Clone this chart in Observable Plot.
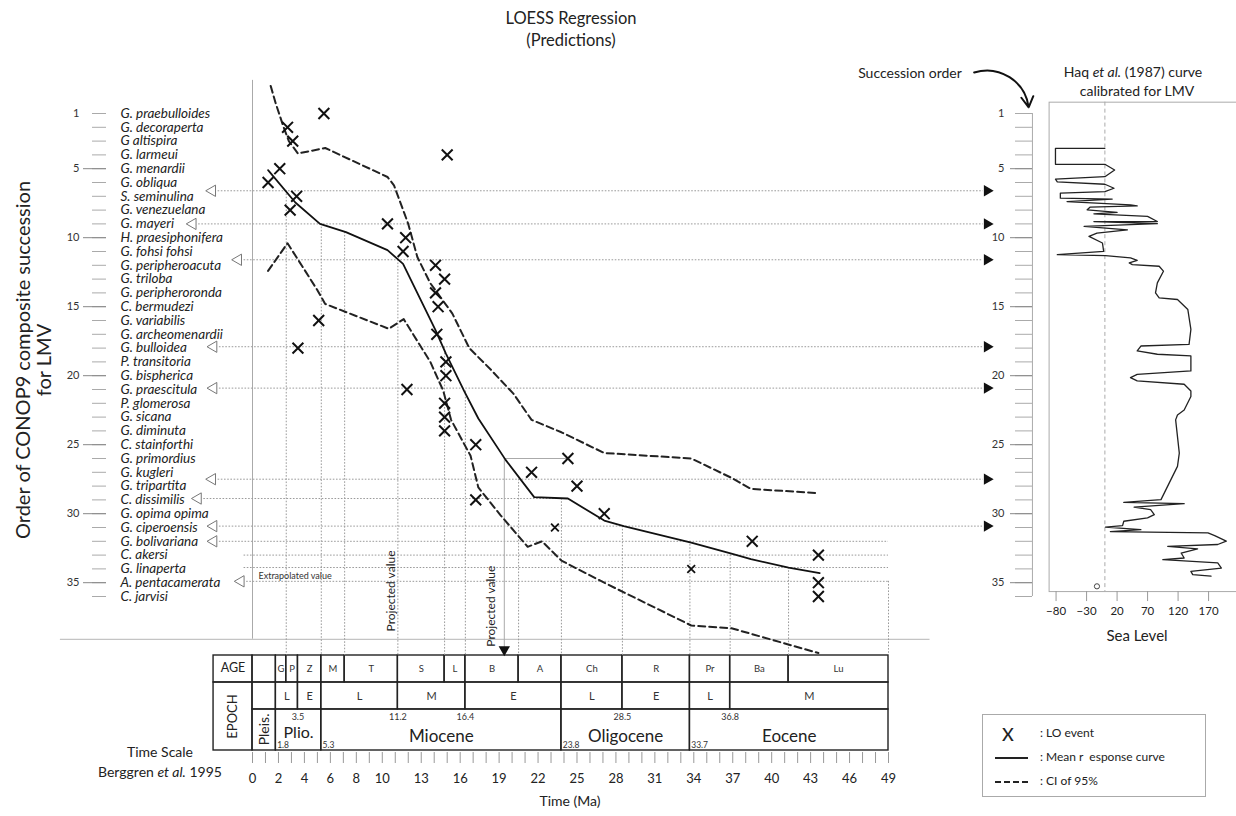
<!DOCTYPE html>
<html>
<head>
<meta charset="utf-8">
<script src="https://cdn.jsdelivr.net/npm/d3@7"></script>
<script src="https://cdn.jsdelivr.net/npm/@observablehq/plot@0.6"></script>
<style>
  body { margin: 0; background: #fff; font-family: Lato, "Open Sans", sans-serif; color: #222; }
  #fig { position: relative; width: 1236px; height: 816px; overflow: hidden; background: #fff; }
  #fig svg { position: absolute; left: 0; top: 0; overflow: visible; }
  .t { position: absolute; white-space: nowrap; line-height: 1; }
  .c { transform: translate(-50%, -50%); }
</style>
</head>
<body>
<div id="fig"></div>
<script>
// ---- Taxa in CONOP9 composite order (1 = youngest) ----
const species = ["G. praebulloides","G. decoraperta","G altispira","G. larmeui","G. menardii","G. obliqua",
  "S. seminulina","G. venezuelana","G. mayeri","H. praesiphonifera","G. fohsi fohsi","G. peripheroacuta",
  "G. triloba","G. peripheroronda","C. bermudezi","G. variabilis","G. archeomenardii","G. bulloidea",
  "P. transitoria","G. bispherica","G. praescitula","P. glomerosa","G. sicana","G. diminuta",
  "C. stainforthi","G. primordius","G. kugleri","G. tripartita","C. dissimilis","G. opima opima",
  "G. ciperoensis","G. bolivariana","C. akersi","G. linaperta","A. pentacamerata","C. jarvisi"];

// Age (Ma) of each last occurrence, same order as species
const loAge = [5.5,2.7,3.1,15.0,2.1,1.2,3.4,2.9,10.4,11.8,11.6,14.1,14.8,14.1,14.3,5.1,14.2,3.5,
  14.9,14.9,11.9,14.8,14.8,14.8,17.2,24.3,21.5,25.0,17.2,27.1,23.3,38.5,43.6,33.8,43.6,43.6];
// events drawn with a smaller marker
const loSmall = [31, 34];

// LOESS mean response curve
const meanAge   = [1.2,3.3,5.2,7.2,10.4,11.6,14.1,14.9,16.3,17.4,19.5,21.7,24.3,27.1,28.6,33.8,36.9,38.4,41.3,43.7];
const meanOrder = [5.1,7.45,9.0,9.6,10.9,11.9,16.7,18.4,21.1,23.1,26.1,28.8,28.9,30.5,30.9,32.1,32.9,33.3,33.9,34.3];

// 95% confidence band, young side
const ciUpAge   = [1.4,1.8,2.4,2.8,3.5,5.6,10.4,10.9,12.0,12.7,13.7,15.4,16.7,18.4,20.1,21.5,23.8,27.1,33.8,36.9,38.4,43.4];
const ciUpOrder = [-1.0,0.3,2.0,3.0,3.9,3.5,5.6,6.2,9.0,11.4,13.3,15.5,18.0,19.6,21.3,23.2,24.1,25.6,26.0,27.4,28.2,28.5];
// 95% confidence band, old side
const ciLoAge   = [1.2,2.7,5.0,5.6,10.5,11.65,13.7,14.7,15.3,16.8,17.4,19.1,21.2,22.3,23.8,27.1,33.8,36.9,38.4,43.6];
const ciLoOrder = [12.4,10.4,13.8,14.8,16.6,15.9,19.0,21.1,23.2,25.8,28.1,30.1,32.4,32.0,33.4,35.0,38.1,38.3,38.7,40.1];

// Projection guides: succession level, start (Ma) and end (Ma) of the dotted line
const guideOrder = [6.6, 9.0, 11.6, 17.9, 20.9, 27.5, 28.9, 30.9, 32.0, 33.0, 33.9, 34.9];
const guideFrom  = [-3.1,-4.6,-1.1,-3.0,-3.0,-3.1,-4.2,-3.0,-3.0,-1.1,-1.1,-0.9];
const guideTo    = [56.3,56.3,56.3,56.3,56.3,56.3,23.8,56.3,49,49,49,49];
const guideOpen  = [1,1,1,1,1,1,1,1,1,0,0,1];
const guideHead  = [1,1,1,1,1,1,0,1,0,0,0,0];

// Stage boundaries dropped from the curve to the time scale
const dropAge   = [2.6, 5.3, 7.1, 11.2, 14.8, 16.4, 20.5, 23.8, 28.5, 33.7, 36.8, 41.3, 49];
const dropOrder = [6.6, 9.0, 9.6, 11.6, 17.9, 21.1, 27.5, 28.9, 30.9, 32.0, 33.0, 33.9, 34.9];

// Time scale (Berggren et al. 1995)
const ageEdges  = [0,1.8,2.6,3.5,5.3,7.1,11.2,14.8,16.4,20.5,23.8,28.5,33.7,36.8,41.3,49];
const ageNames  = ["","G","P","Z","M","T","S","L","B","A","Ch","R","Pr","Ba","Lu"];
const subEdges  = [0,1.8,3.5,5.3,11.2,16.4,23.8,28.5,33.7,36.8,49];
const subNames  = ["","L","E","L","M","E","L","E","L","M"];
const epochEdges = [0,1.8,5.3,23.8,33.7,49];
const epochNames = ["Pleis.","Plio.","Miocene","Oligocene","Eocene"];
const upperDates = [3.5, 11.2, 16.4, 28.5, 36.8];
const lowerDates = [1.8, 5.3, 23.8, 33.7];

// Axis ticks
const timeTicks  = [0,2,4,6,8,10,13,16,19,22,25,28,31,34,37,40,43,46,49];
const orderTicks = [5,10,15,20,25,30,35];
const seaTicks   = [-80,-30,20,70,120,170];

// Haq et al. (1987) sea-level curve calibrated to the succession
const seaOrder = [3.56,3.56,4.72,4.72,5.13,5.62,5.80,6.0,6.17,6.46,6.70,6.82,7.18,7.25,7.43,7.67,7.74,7.83,8.03,8.22,
  8.32,8.51,8.88,8.88,9.04,9.24,9.48,9.72,9.96,10.44,11.05,11.29,11.36,11.53,11.70,11.89,12.01,12.13,12.49,13.34,
  14.07,14.43,14.55,15.28,16.72,17.81,17.93,18.29,18.53,18.65,19.74,19.99,20.23,20.47,20.71,21.2,21.6,22.58,22.94,23.3,
  25.72,26.68,29.1,29.3,29.39,29.64,29.83,30.19,30.43,30.67,30.99,31.09,31.28,31.42,31.52,31.71,32.12,32.36,32.49,32.68,
  32.98,33.34,33.46,33.70,34.07,34.31,34.55,34.66];
const seaLevel = [0,-81,-81,0,16,0,-81,-78,0,15,0,-73,-73,12,-62,42,53,-24,-29,20,
  -18,70,86,-18,86,-34,37,-13,-26,-4,-2,-78,1,42,53,40,45,89,96,86,
  83,89,119,136,141,138,59,53,86,141,141,53,42,53,130,141,141,130,119,116,
  122,119,92,31,130,48,75,81,70,31,29,1,59,9,169,180,199,185,103,152,
  125,130,95,185,191,141,144,174];

const fig = document.getElementById("fig");
const FONT = "Lato, 'Open Sans', sans-serif";
const X = {domain: [0, 49], range: [252, 888]};
const Y = {domain: [1, 36], range: [113, 596]};
const TABLE_TOP = 40.28;   // succession level at the top edge of the time-scale table

const events = loAge.map((t, i) => ({t, o: i + 1, small: loSmall.includes(i + 1)}));
const mean = meanAge.map((t, i) => ({t, o: meanOrder[i]}));
const ciUp = ciUpAge.map((t, i) => ({t, o: ciUpOrder[i]}));
const ciLo = ciLoAge.map((t, i) => ({t, o: ciLoOrder[i]}));
const guides = guideOrder.map((o, i) => ({o, from: guideFrom[i], to: guideTo[i], open: guideOpen[i], head: guideHead[i]}));
const drops = dropAge.map((t, i) => ({t, o: dropOrder[i]}));
const sea = seaOrder.map((o, i) => ({o, s: seaLevel[i]}));

const transparent = {background: "transparent", fontFamily: FONT, overflow: "visible"};

// ---- Time-scale table and time axis ----
// rows: stage (0-1), sub-epoch (1-2), epoch (2-3.52); the epoch row is taller
const rowEdges = [0, 1, 2, 3.52];
const cellsOf = (edges, names, row) => names.map((n, i) => ({n, a: edges[i], b: edges[i + 1], y1: rowEdges[row], y2: rowEdges[row + 1]}));
const ageCells = cellsOf(ageEdges, ageNames, 0);
const subCells = cellsOf(subEdges, subNames, 1);
const epochCells = cellsOf(epochEdges, epochNames, 2);
const headCells = [{a: -3.0, b: 0, y1: 0, y2: 1}, {a: -3.0, b: 0, y1: 1, y2: 3.52}];
const tableStroke = {stroke: "#222", strokeWidth: 1.4, fill: "none"};

const table = Plot.plot({
  width: 1236, height: 816, marginLeft: 0, marginRight: 0, marginTop: 0, marginBottom: 64,
  style: transparent,
  x: X,
  y: {domain: [0, 3.52], range: [655, 750], axis: null},
  marks: [
    Plot.rect([...ageCells, ...subCells, ...epochCells, ...headCells], {x1: "a", x2: "b", y1: "y1", y2: "y2", ...tableStroke}),
    Plot.text(["AGE"], {x: () => -1.5, y: () => 0.48, fontSize: 12.5, fill: "#222"}),
    Plot.text(["EPOCH"], {x: () => -1.5, y: () => 2.26, rotate: -90, fontSize: 13, fill: "#222"}),
    Plot.text(ageCells, {x: d => (d.a + d.b) / 2, y: () => 0.5, text: "n", fontSize: 9.5, fill: "#333"}),
    Plot.text(subCells, {x: d => (d.a + d.b) / 2, y: () => 1.5, text: "n", fontSize: 11, fill: "#333"}),
    Plot.text(epochCells.slice(2), {x: d => (d.a + d.b) / 2, y: () => 3.0, text: "n", fontSize: 17, fill: "#222"}),
    Plot.text(epochCells.slice(1, 2), {x: d => (d.a + d.b) / 2, y: () => 2.86, text: "n", fontSize: 16, fill: "#222"}),
    Plot.text(epochCells.slice(0, 1), {x: d => (d.a + d.b) / 2, y: () => 2.74, text: "n", rotate: -90, fontSize: 14, fill: "#222"}),
    Plot.text(upperDates, {x: d => d, y: () => 2.3, text: d => String(d), fontSize: 9, fill: "#333"}),
    Plot.text(lowerDates, {x: d => d + 0.1, y: () => 3.33, text: d => String(d), textAnchor: "start", fontSize: 8.5, fill: "#333"}),
    Plot.axisX({ticks: d3.range(0, 50), tickSize: 11, tickFormat: () => "", stroke: "#999", label: null}),
    Plot.axisX({ticks: timeTicks, tickSize: 0, tickPadding: 21, fontSize: 13, fill: "#222", label: null})
  ]
});
fig.appendChild(table);

// ---- Sea-level panel ----
const seaPanel = Plot.plot({
  width: 1240, height: 816, marginLeft: 1052, marginRight: 0, marginTop: 102, marginBottom: 223,
  style: transparent,
  x: {domain: [-80, 170], range: [1059, 1212]},
  y: {...Y, axis: null},
  marks: [
    Plot.frame({stroke: "#aaa"}),
    Plot.ruleX([0], {stroke: "#aaa", strokeDasharray: "4,3"}),
    Plot.line(sea, {x: "s", y: "o", stroke: "#222", strokeWidth: 1.3}),
    Plot.dot([{s: -13, o: 35.4}], {x: "s", y: "o", r: 2.6, stroke: "#444", strokeWidth: 1}),
    Plot.axisX({ticks: seaTicks, tickSize: 10, tickPadding: 5, fontSize: 11.5, stroke: "#999", fill: "#222", label: null})
  ]
});
fig.appendChild(seaPanel);

// ---- Main panel: LO events, LOESS curve and projections ----
const dotted = {stroke: "#9a9a9a", strokeWidth: 1, strokeDasharray: "1.6,1.6"};
const cross = {x: "t", y: "o", symbol: "times", stroke: "#111", strokeWidth: 2};
const main = Plot.plot({
  width: 1236, height: 816, marginLeft: 106, marginRight: 204, marginTop: 0, marginBottom: 0,
  style: transparent,
  x: {...X, axis: null},
  y: Y,
  marks: [
    // frame lines
    Plot.ruleX([0], {y1: () => -1.4, y2: () => 39.1, stroke: "#aaa"}),
    Plot.ruleY([39.1], {x1: () => -14.8, x2: () => 52.2, stroke: "#c4c4c4", strokeWidth: 1.2}),
    // projection guides
    Plot.ruleY(guides, {y: "o", x1: d => d.from + 0.45, x2: "to", ...dotted}),
    Plot.ruleX(drops, {x: "t", y1: "o", y2: () => TABLE_TOP, ...dotted}),
    Plot.dot(guides.filter(d => d.open), {x: "from", y: "o", symbol: "triangle", rotate: -90, r: 4.2, fill: "white", stroke: "#777", strokeWidth: 1}),
    Plot.dot(guides.filter(d => d.head), {x: d => d.to + 0.3, y: "o", symbol: "triangle", rotate: 90, r: 4.2, fill: "#111", stroke: "none"}),
    // projected value of G. primordius
    Plot.ruleY([26], {x1: () => 19.4, x2: () => 24.3, stroke: "#aaa"}),
    Plot.ruleX([19.4], {y1: () => 26, y2: () => 39.7, stroke: "#aaa"}),
    Plot.dot([19.4], {x: d => d, y: () => 39.85, symbol: "triangle", rotate: 180, r: 4.2, fill: "#111", stroke: "none"}),
    Plot.text(["Projected value"], {x: () => 10.7, y: () => 35.6, rotate: -90, fontSize: 12, fill: "#222"}),
    Plot.text(["Projected value"], {x: () => 18.4, y: () => 36.7, rotate: -90, fontSize: 12, fill: "#222"}),
    Plot.text(["Extrapolated value"], {x: () => 0.46, y: () => 34.55, textAnchor: "start", fontSize: 9, fill: "#333"}),
    // confidence band and mean response
    Plot.line(ciUp, {x: "t", y: "o", stroke: "#222", strokeWidth: 2, strokeDasharray: "7,4"}),
    Plot.line(ciLo, {x: "t", y: "o", stroke: "#222", strokeWidth: 2, strokeDasharray: "7,4"}),
    Plot.line(mean, {x: "t", y: "o", stroke: "#111", strokeWidth: 1.8}),
    // last occurrences
    Plot.dot(events.filter(d => !d.small), {...cross, r: 5}),
    Plot.dot(events.filter(d => d.small), {...cross, r: 3.6, strokeWidth: 1.8}),
    // taxa
    Plot.text(species, {y: (d, i) => i + 1, frameAnchor: "left", dx: 14, textAnchor: "start", fontStyle: "italic", fontSize: 13.5, fill: "#222"}),
    // left succession axis
    Plot.axisY({ticks: d3.range(1, 37), tickSize: 14, tickFormat: () => "", stroke: "#aaa", label: null}),
    Plot.axisY({ticks: orderTicks, tickSize: 23, tickPadding: 4, fontSize: 11, stroke: "#888", fill: "#333", label: null}),
    Plot.axisY({ticks: [1], tickSize: 0, tickPadding: 27, fontSize: 11, fill: "#333", label: null}),
    // right succession axis
    Plot.ruleX([60.09], {y1: () => 1, y2: () => 36, stroke: "#aaa"}),
    Plot.axisY({ticks: d3.range(1, 37), tickSize: 17, tickFormat: () => "", stroke: "#aaa", dx: 926, label: null}),
    Plot.axisY({ticks: orderTicks, tickSize: 22, tickPadding: 6, fontSize: 11, stroke: "#888", fill: "#333", dx: 926, label: null}),
    Plot.axisY({ticks: [1], tickSize: 0, tickPadding: 28, fontSize: 11, fill: "#333", dx: 926, label: null}),
    Plot.arrow([0], {x1: () => 55.6, y1: () => -1.97, x2: () => 59.8, y2: () => 0.55, bend: 50, stroke: "#111", strokeWidth: 2, headLength: 9})
  ]
});
fig.appendChild(main);

// ---- Titles, captions and legend ----
function put(html, x, y, style = {}, center = true) {
  const d = document.createElement("div");
  d.className = "t" + (center ? " c" : "");
  d.innerHTML = html;
  d.style.left = x + "px";
  d.style.top = y + "px";
  Object.assign(d.style, style);
  fig.appendChild(d);
  return d;
}
put("LOESS Regression", 571, 18, {fontSize: "16.5px"});
put("(Predictions)", 571, 40, {fontSize: "16.5px"});
put("Order of CONOP9 composite succession", 22, 360, {fontSize: "20px", transform: "translate(-50%,-50%) rotate(-90deg)"});
put("for LMV", 43, 360, {fontSize: "20px", transform: "translate(-50%,-50%) rotate(-90deg)"});
put("Time Scale", 160, 752, {fontSize: "14px"});
put("Berggren <i>et al.</i> 1995", 160, 772, {fontSize: "14px"});
put("Time (Ma)", 570, 801, {fontSize: "14px"});
put("Succession order", 910, 73, {fontSize: "14px"});
put("Haq <i>et al.</i> (1987) curve", 1133, 72, {fontSize: "14px"});
put("calibrated for LMV", 1137, 91, {fontSize: "14px"});
put("Sea Level", 1137, 635, {fontSize: "15px"});

put("", 982, 714, {width: "224px", height: "83px", border: "1px solid #aaa", boxSizing: "border-box"}, false);
put("X", 1008, 734, {fontSize: "18px", fontWeight: "500"});
put(":&nbsp;LO event", 1040, 727, {fontSize: "12px"}, false);
put("", 995, 757, {width: "33px", borderTop: "2px solid #222"}, false);
put(":&nbsp;Mean r&nbsp; esponse curve", 1040, 751, {fontSize: "12px"}, false);
put("", 995, 781, {width: "33px", borderTop: "2px dashed #222"}, false);
put(":&nbsp;CI of 95%", 1040, 775, {fontSize: "12px"}, false);
</script>
</body>
</html>
